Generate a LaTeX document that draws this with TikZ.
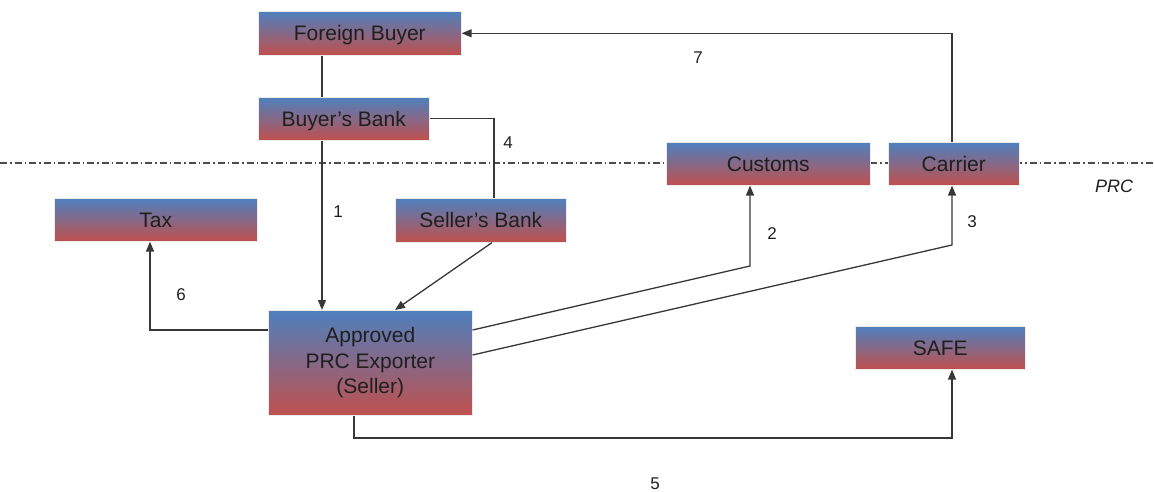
\documentclass[tikz,border=0pt]{standalone}
\usepackage{fontspec}
\setmainfont{Liberation Sans}
\usetikzlibrary{arrows.meta}
\definecolor{boxtop}{RGB}{78,128,190}
\definecolor{boxbot}{RGB}{192,80,77}
\definecolor{wire}{RGB}{55,55,55}
\tikzset{
  box/.style={anchor=north west, inner sep=0pt, top color=boxtop, bottom color=boxbot,
    draw=white!85!gray, line width=0.6pt, font=\fontsize{21}{25.5}\selectfont,
    align=center, text=black!88},
  onebox/.style={box, text height=15pt, text depth=0pt},
  wireline/.style={draw=wire, line width=1.3pt},
  arr/.style={wireline, -{Triangle[length=10pt,width=8pt]}},
  num/.style={inner sep=0pt, font=\fontsize{17}{20}\selectfont, text=black!88},
}
\begin{document}
\begin{tikzpicture}[x=1pt,y=-1pt]
\useasboundingbox (0,0) rectangle (1154,492);
% border line of the PRC
\draw[draw=black!70, line width=1.1pt, dash pattern=on 7pt off 3pt on 1.5pt off 3pt] (0,163) -- (1154,163);
\node[inner sep=0pt, font=\fontsize{18}{20}\selectfont\itshape, text=black!88] (prc) at (1114,186) {PRC};

% parties
\node[onebox, minimum width=203pt, minimum height=44pt] (fb) at (258,11) {Foreign Buyer};
\node[onebox, minimum width=171pt, minimum height=43pt] (bb) at (258,97) {Buyer’s Bank};
\node[onebox, minimum width=171pt, minimum height=44pt] (sb) at (395,198) {Seller’s Bank};
\node[onebox, minimum width=204pt, minimum height=43pt] (cu) at (666,142) {Customs};
\node[onebox, minimum width=131pt, minimum height=43pt] (ca) at (888,142) {Carrier};
\node[onebox, minimum width=203pt, minimum height=43pt] (tx) at (54,198) {Tax};
\node[box, minimum width=204pt, minimum height=105pt] (ex) at (268,310) {Approved\\PRC Exporter\\(Seller)};
\node[onebox, minimum width=170pt, minimum height=43pt] (sf) at (855,326) {SAFE};

% bend points
\coordinate (v1) at (322,0);
\coordinate (v4) at (494,0);
\coordinate (k2) at (750,266);
\coordinate (k3) at (952,245);
\coordinate (v6) at (150,0);
\coordinate (k5) at (354,438);
\coordinate (v5) at (952,0);

% flows
\draw[wireline] (fb.south -| v1) -- (bb.north -| v1);
\draw[arr] (bb.south -| v1) -- (ex.north -| v1);
\draw[wireline] (bb.east) -- (bb.east -| v4) -- (sb.north -| v4);
\draw[arr] ([xshift=97pt]sb.south west) -- ([xshift=127pt]ex.north west);
\draw[arr] ([yshift=-20pt]ex.north east) -- (k2) -- (k2 |- cu.south);
\draw[arr] ([yshift=-45pt]ex.north east) -- (k3) -- (k3 |- ca.south);
\draw[arr] (k3 |- ca.north) -- (k3 |- fb.east) -- (fb.east);
\draw[arr] ([yshift=-20pt]ex.north west) -- ([yshift=-20pt]ex.north west -| v6) -- (tx.south -| v6);
\draw[arr] (ex.south -| k5) -- (k5) -- (k5 -| v5) -- (sf.south -| v5);

% step numbers
\node[num] (n1) at (338,212) {1};
\node[num] (n2) at (772,234) {2};
\node[num] (n3) at (972,222) {3};
\node[num] (n4) at (508,143) {4};
\node[num] (n5) at (655,484) {5};
\node[num] (n6) at (181,295) {6};
\node[num] (n7) at (698,58) {7};
\end{tikzpicture}
\end{document}
